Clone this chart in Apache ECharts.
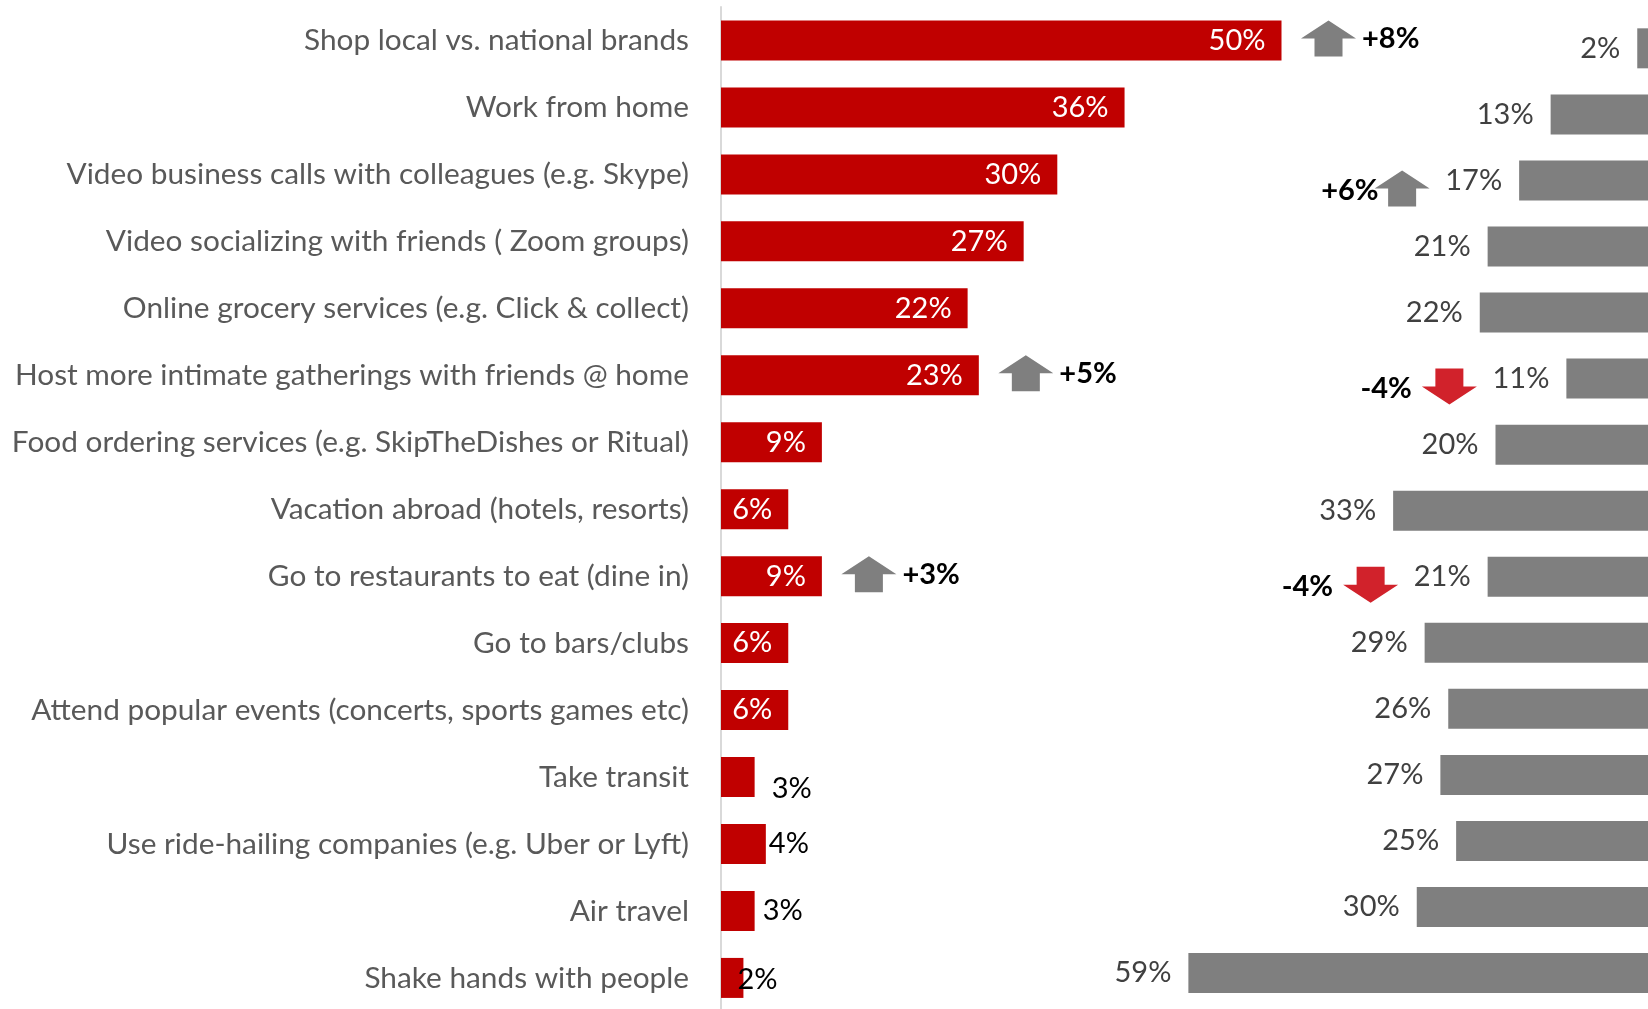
<!DOCTYPE html>
<html>
<head>
<meta charset="utf-8">
<script src="https://cdn.jsdelivr.net/npm/echarts@6/dist/echarts.min.js"></script>
<style>
  html, body { margin: 0; padding: 0; background: #ffffff; }
  #chart { width: 1648px; height: 1009px; }
</style>
</head>
<body>
<div id="chart"></div>
<script>
// Activities, top to bottom
const categories = [
  'Shop local vs. national brands',
  'Work from home',
  'Video business calls with colleagues (e.g. Skype)',
  'Video socializing with friends ( Zoom groups)',
  'Online grocery services (e.g. Click & collect)',
  'Host more intimate gatherings with friends @ home',
  'Food ordering services (e.g. SkipTheDishes or Ritual)',
  'Vacation abroad (hotels, resorts)',
  'Go to restaurants to eat (dine in)',
  'Go to bars/clubs',
  'Attend popular events (concerts, sports games etc)',
  'Take transit',
  'Use ride-hailing companies (e.g. Uber or Lyft)',
  'Air travel',
  'Shake hands with people'
];

// Share doing more (red) and less (grey), in %
const moreValues = [50, 36, 30, 27, 22, 23, 9, 6, 9, 6, 6, 3, 4, 3, 2];
const lessValues = [2, 13, 17, 21, 22, 11, 20, 33, 21, 29, 26, 27, 25, 30, 59];

// Point changes called out with arrows
const moreChangeRows = [0, 5, 8];
const moreChangeValues = [8, 5, 3];
const lessChangeRows = [2, 5, 8];
const lessChangeValues = [6, -4, -4];

const FONT = 'Lato';
const FS = 29;
const CAT_FS = 29.8;
const RED = '#c00000';
const GREY = '#7f7f7f';
const ARROW_RED = '#d1222b';

// label tweaks for the short red bars
const smallLabelNudge = { 11: [9, 12], 12: [-5, 0], 14: [-14, 2] };

const moreData = moreValues.map((v, i) => {
  if (v >= 5) {
    return { value: v, label: { position: 'insideRight', distance: 16, color: '#ffffff' } };
  }
  return {
    value: v,
    label: { position: 'right', distance: 8, color: '#000000', offset: smallLabelNudge[i] || [0, 0] }
  };
});

function fmtChange(c) { return (c > 0 ? '+' : '') + c + '%'; }

function arrowRenderer(dx, dy, textSide) {
  return function (params, api) {
    const v = api.value(0), row = api.value(1), chg = api.value(2);
    const p = api.coord([v, row]);
    const cx = p[0] + dx, cy = p[1] + dy;
    const hw = 27.5, hh = 18, sw = 14;
    const up = chg > 0;
    const s = up ? 1 : -1;
    const pts = [
      [cx, cy - s * hh],
      [cx + hw, cy],
      [cx + sw, cy],
      [cx + sw, cy + s * hh],
      [cx - sw, cy + s * hh],
      [cx - sw, cy],
      [cx - hw, cy]
    ];
    let tx, align, ty;
    if (textSide === 'right') {
      tx = cx + hw + 6; align = 'left'; ty = cy;
    } else {
      tx = cx - hw - (up ? -4 : 10); align = 'right'; ty = cy + 2;
    }
    return {
      type: 'group',
      children: [
        { type: 'polygon', shape: { points: pts }, style: { fill: up ? GREY : ARROW_RED } },
        {
          type: 'text',
          style: {
            x: tx, y: ty, text: fmtChange(chg), fill: '#000000',
            fontFamily: FONT, fontSize: FS, fontWeight: 'bold',
            align: align, verticalAlign: 'middle'
          }
        }
      ]
    };
  };
}

const chart = echarts.init(document.getElementById('chart'), null, { renderer: 'canvas' });
chart.setOption({
  animation: false,
  backgroundColor: '#ffffff',
  grid: [
    { left: 721, top: 7, width: 672.6, height: 1004.4, containLabel: false, outerBoundsMode: 'none' },
    { left: 1023, top: 15.3, width: 630, height: 990.8, containLabel: false, outerBoundsMode: 'none' }
  ],
  xAxis: [
    { gridIndex: 0, type: 'value', min: 0, max: 60, show: false },
    { gridIndex: 1, type: 'value', min: 0, max: 80, inverse: true, show: false }
  ],
  yAxis: [
    {
      gridIndex: 0, type: 'category', data: categories, inverse: true,
      axisLine: { show: true, lineStyle: { color: '#d9d9d9', width: 2 } },
      axisTick: { show: false },
      splitLine: { show: false },
      axisLabel: { color: '#595959', fontFamily: FONT, fontSize: CAT_FS, margin: 32 }
    },
    {
      gridIndex: 1, type: 'category', data: categories, inverse: true, show: false
    }
  ],
  series: [
    {
      type: 'bar', xAxisIndex: 0, yAxisIndex: 0, barWidth: 40,
      data: moreData,
      itemStyle: { color: RED },
      label: { show: true, formatter: '{c}%', fontFamily: FONT, fontSize: FS },
      silent: true
    },
    {
      type: 'bar', xAxisIndex: 1, yAxisIndex: 1, barWidth: 40,
      data: lessValues,
      itemStyle: { color: GREY },
      label: {
        show: true, position: 'left', distance: 17, formatter: '{c}%',
        color: '#404040', fontFamily: FONT, fontSize: FS
      },
      silent: true
    },
    {
      type: 'custom', xAxisIndex: 0, yAxisIndex: 0, clip: false, silent: true,
      encode: { x: 0, y: 1 },
      data: moreChangeRows.map((r, k) => [moreValues[r], r, moreChangeValues[k]]),
      renderItem: arrowRenderer(47, -2, 'right')
    },
    {
      type: 'custom', xAxisIndex: 1, yAxisIndex: 1, clip: false, silent: true,
      encode: { x: 0, y: 1 },
      data: lessChangeRows.map((r, k) => [lessValues[r], r, lessChangeValues[k]]),
      renderItem: arrowRenderer(-117, 8, 'left')
    }
  ]
});
</script>
</body>
</html>
